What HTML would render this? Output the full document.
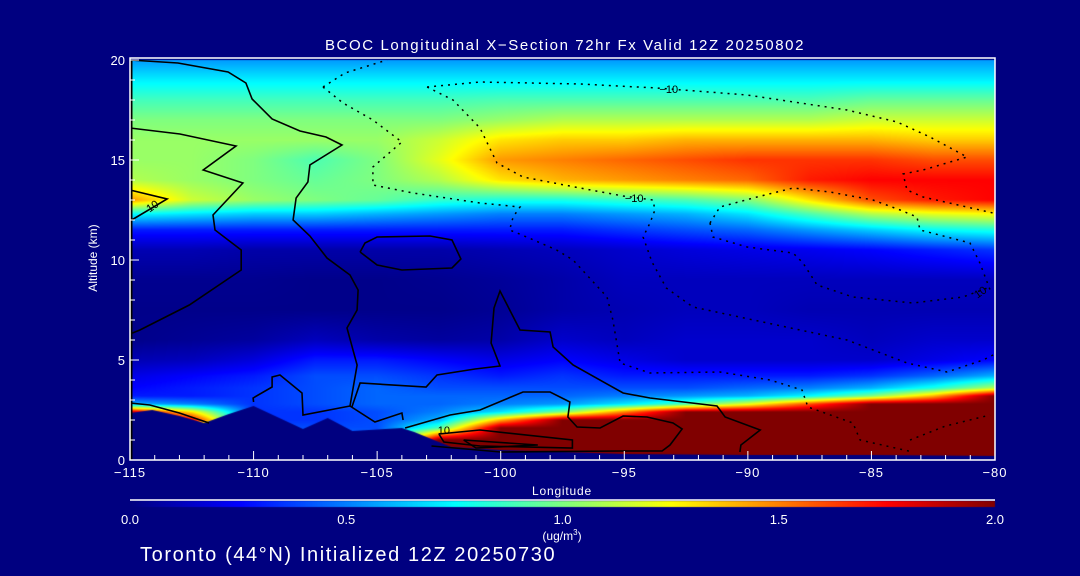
<!DOCTYPE html>
<html><head><meta charset="utf-8"><style>
html,body{margin:0;padding:0;background:#000080;}
#wrap{position:relative;width:1080px;height:576px;overflow:hidden;background:#000080;font-family:"Liberation Sans",sans-serif;}
canvas,svg{position:absolute;left:0;top:0;}
</style></head><body>
<div id="wrap">
<canvas id="heat" width="1080" height="576"></canvas>
<svg id="ov" width="1080" height="576">
<text x="565" y="50" fill="#fff" font-size="15" letter-spacing="1.6" text-anchor="middle">BCOC Longitudinal X−Section 72hr  Fx Valid 12Z 20250802</text>
<text x="562" y="495" fill="#fff" font-size="12" letter-spacing="0.8" text-anchor="middle">Longitude</text>
<text x="97" y="258" fill="#fff" font-size="12" text-anchor="middle" transform="rotate(-90 97 258)">Altitude (km)</text>
<text x="562" y="540" fill="#fff" font-size="12" text-anchor="middle">(ug/m<tspan font-size="8" dy="-5">3</tspan><tspan dy="5">)</tspan></text>
<text x="140" y="561" fill="#fff" font-size="20" letter-spacing="1.6">Toronto (44°N) Initialized 12Z 20250730</text>
<g id="contours"></g>
<g id="axes"></g>
<g id="cbar"></g>
</svg>
</div>
<script>
// ---- data ----
const lons = [-115,-112.5,-110,-107.5,-105,-102.5,-100,-97.5,-95,-92.5,-90,-87.5,-85,-82.5,-80];
const alts = [0,1.0,1.6,2.0,2.4,2.8,3.2,3.6,4.2,5,6,7.5,9,10.5,11.5,12.3,13,14,15,16,17,18,19,20];
const conc = [
[2,2,2,2,2,2,2,2,2,2,2,2,2,2,2],
[2,1.5,0.5,0.5,0.5,2,2,2,2,2,2,2,2,2,2],
[1.8,1.2,0.4,0.4,0.4,0.9,2,2,2,2,2,2,2,2,2],
[1.9,1.8,0.35,0.35,0.4,0.6,1.4,2,2,2,2,2,2,2,2],
[1.9,1.3,0.35,0.35,0.4,0.5,0.7,1.0,1.5,2,2,2,2,2,2],
[0.6,0.5,0.35,0.4,0.45,0.45,0.5,0.55,0.7,0.9,1.2,1.6,2,2,2],
[0.3,0.3,0.35,0.4,0.45,0.45,0.45,0.45,0.5,0.55,0.6,0.75,1.0,1.4,2],
[0.25,0.3,0.35,0.4,0.45,0.4,0.4,0.4,0.4,0.4,0.45,0.5,0.6,0.8,1.1],
[0.2,0.25,0.3,0.4,0.4,0.35,0.3,0.35,0.3,0.3,0.3,0.3,0.35,0.45,0.6],
[0.1,0.12,0.18,0.3,0.3,0.25,0.2,0.25,0.2,0.15,0.15,0.15,0.15,0.2,0.25],
[0.02,0.04,0.06,0.12,0.08,0.06,0.08,0.15,0.12,0.15,0.15,0.15,0.12,0.15,0.15],
[0.02,0.02,0.02,0.02,0.02,0.02,0.04,0.08,0.1,0.12,0.12,0.1,0.1,0.1,0.1],
[0.03,0.03,0.03,0.02,0.02,0.03,0.05,0.08,0.12,0.12,0.12,0.12,0.12,0.12,0.12],
[0.1,0.1,0.08,0.08,0.08,0.08,0.1,0.12,0.15,0.18,0.2,0.22,0.25,0.3,0.35],
[0.3,0.3,0.3,0.3,0.3,0.3,0.3,0.3,0.35,0.4,0.45,0.55,0.65,0.75,0.8],
[0.75,0.7,0.65,0.65,0.6,0.55,0.5,0.5,0.55,0.6,0.7,0.9,1.1,1.2,1.25],
[1.45,1.15,1.05,1.0,0.95,0.85,0.8,0.8,0.85,0.9,1.0,1.3,1.6,1.7,1.75],
[1.1,1.05,1.0,0.95,1.0,1.1,1.3,1.4,1.45,1.5,1.55,1.7,1.75,1.75,1.75],
[1.05,1.05,1.0,0.9,1.0,1.2,1.45,1.5,1.55,1.6,1.65,1.65,1.65,1.6,1.6],
[1.05,1.05,1.05,1.05,1.05,1.15,1.3,1.35,1.35,1.4,1.4,1.4,1.4,1.35,1.35],
[1.0,1.0,1.0,1.0,1.0,1.0,1.05,1.1,1.1,1.1,1.1,1.1,1.15,1.15,1.15],
[0.88,0.88,0.88,0.88,0.88,0.88,0.9,0.9,0.9,0.9,0.9,0.9,0.95,0.95,0.95],
[0.72,0.72,0.72,0.72,0.72,0.72,0.72,0.72,0.72,0.72,0.72,0.72,0.72,0.72,0.72],
[0.55,0.55,0.55,0.55,0.55,0.55,0.55,0.55,0.55,0.55,0.55,0.55,0.55,0.55,0.55]
];
const terrainLon = [-115,-114.1,-113,-112,-111,-110,-108,-107,-106,-104,-103.5,-102,-100,-95,-90,-85,-80];
const terrainAlt = [2.35,2.5,2.2,1.85,2.3,2.7,1.55,2.1,1.45,1.6,1.4,0.65,0.5,0.3,0.25,0.25,0.2];
const xTicks = [-115,-110,-105,-100,-95,-90,-85,-80];
const xTickLabels = ["−115","−110","−105","−100","−95","−90","−85","−80"];
const yTicks = [0,5,10,15,20];
const yTickLabels = ["0","5","10","15","20"];
const cbTicks = [0,0.5,1.0,1.5,2.0];
const cbTickLabels = ["0.0","0.5","1.0","1.5","2.0"];
const solidLines = [
[[-115,20],[-113.06,19.85],[-111.03,19.4],[-110.31,18.85],[-110.06,18.05],[-109.25,17.05],[-108.12,16.45],[-107.07,16.15],[-106.42,15.75],[-107.72,14.75],[-107.8,13.9],[-108.28,13.1],[-108.4,12.0],[-107.72,11.2],[-107.03,10.1],[-106.1,9.25],[-105.77,8.5],[-105.81,7.5],[-106.22,6.6],[-105.81,4.75],[-106.1,2.7],[-105.09,1.9],[-104.0,2.35],[-103.95,2.0]],
[[-106.1,2.7],[-108,2.25],[-108.04,3.35],[-108.93,4.25],[-109.25,4.15],[-109.25,3.65],[-110.02,3.1],[-110.0,2.9]],
[[-115,2.85],[-114.2,2.75],[-113,2.35],[-111.8,1.85]],
[[-106.02,2.65],[-105.69,3.85],[-103.02,3.65],[-102.58,4.25],[-101.04,4.55],[-100.03,4.7],[-100.39,5.85],[-100.27,7.6],[-100.03,8.45],[-99.22,6.5],[-98.0,6.4],[-97.88,5.65],[-97.07,4.75],[-95.05,3.35],[-93.96,3.1],[-91.25,2.7],[-90.92,2.15],[-89.5,1.5],[-90.28,0.75],[-90.32,0.4]],
[[-103.87,1.6],[-102.05,2.25],[-100.84,2.5],[-99.1,3.4],[-98.0,3.4],[-97.2,2.9],[-97.28,2.15],[-96.91,1.65],[-95.98,1.6],[-95.05,2.2],[-94.08,2.15],[-93.03,1.85],[-92.66,1.55],[-93.15,0.75],[-93.47,0.45],[-95.17,0.45],[-100,0.4],[-102.8,0.7]],
[[-102.5,1.3],[-100.84,1.5],[-97.1,1.0],[-97.1,0.6],[-100.84,0.7],[-102.3,0.9],[-102.5,1.3]],
[[-101.5,1.0],[-98.5,0.75],[-101,0.6],[-101.5,1.0]],
[[-105.69,10.4],[-105.49,10.85],[-105.0,11.15],[-102.86,11.2],[-101.97,11.0],[-101.61,10.05],[-101.97,9.6],[-104.0,9.5],[-105.0,9.75],[-105.69,10.4]],
[[-115,16.6],[-112.98,16.3],[-110.71,15.7],[-112.04,14.5],[-110.43,13.85],[-111.64,12.25],[-111.56,11.5],[-110.5,10.5],[-110.5,9.5],[-112.6,7.75],[-114.6,6.5],[-115,6.3]],
[[-115,13.5],[-113.5,13.05],[-115,11.95]]
];
const dottedLines = [
[[-107.19,18.65],[-106.3,19.35],[-104.6,20]],
[[-107.19,18.65],[-106.38,17.85],[-105.17,17],[-104.0,15.9],[-105.17,14.65],[-105.17,13.75],[-103.55,13.35],[-100.84,12.85],[-99.22,12.65],[-99.5,12.15],[-99.64,11.5],[-98.95,11.15],[-97.74,10.5],[-97.07,10],[-95.7,8.15],[-95.46,7.0],[-95.17,4.85],[-93.96,4.35],[-91.13,4.4],[-89.1,4.0],[-87.81,3.5],[-87.57,2.65],[-85.75,1.85],[-85.46,1.0],[-83.32,0.4]],
[[-83.44,1.0],[-82,1.7],[-80.2,2.25]],
[[-102.98,18.65],[-101.93,18.0],[-100.84,16.6],[-100.15,14.85],[-99.1,14.15],[-96.79,13.6],[-95.05,13.2],[-93.84,13.0],[-93.76,12.5],[-93.96,11.85],[-94.24,11.15],[-93.88,9.9],[-93.3,8.6],[-92.22,7.65],[-87.89,6.5],[-85.99,6.0],[-83.56,4.85],[-81.94,4.4],[-80.48,5.0],[-80,5.3]],
[[-102.98,18.65],[-100.84,18.9],[-96.79,18.8],[-93.68,18.6],[-90.03,18.25],[-85.99,17.5],[-83.96,16.9],[-82.63,16.15],[-81.13,15.15],[-82.91,14.5],[-83.72,14.3],[-83.56,13.5],[-82.91,13.15],[-80.08,12.35]],
[[-91.53,11.85],[-91.13,12.65],[-89.63,13.15],[-88.17,13.6],[-86.68,13.4],[-84.94,13.0],[-83.84,12.5],[-83.16,12.15],[-83.03,11.5],[-81.94,11.15],[-81.01,10.85],[-80.61,9.85],[-80.2,8.5]],
[[-91.53,11.85],[-91.41,11.15],[-90.03,10.65],[-88.17,10.35],[-87.77,9.85],[-87.2,8.75],[-85.75,8.15],[-83.32,7.85],[-81.3,8.15],[-80.2,8.65]]
];
const contourLabels = [[-93.2,18.55,"−10",0],[-94.6,13.1,"−10",0],[-114.1,12.7,"10",-35],[-102.3,1.5,"10",0],[-80.6,8.4,"10",-35]];

// ---- scales ----
const X0=130,X1=995,Y0=60,Y1=460,LMIN=-115,LMAX=-80,AMIN=0,AMAX=20;
const xs=l=>X0+(l-LMIN)/(LMAX-LMIN)*(X1-X0);
const ys=a=>Y1-(a-AMIN)/(AMAX-AMIN)*(Y1-Y0);
const cbx=v=>X0+v/2*(X1-X0);
function jet(v){let t=Math.max(0,Math.min(1,v/2));
 const stops=[[0,0,0,128],[0.125,0,0,255],[0.375,0,255,255],[0.625,255,255,0],[0.875,255,0,0],[1,128,0,0]];
 for(let i=1;i<stops.length;i++){if(t<=stops[i][0]){const a=stops[i-1],b=stops[i],f=(t-a[0])/(b[0]-a[0]);return [a[1]+(b[1]-a[1])*f,a[2]+(b[2]-a[2])*f,a[3]+(b[3]-a[3])*f];}}
 return [128,0,0];}
function idx(arr,v){for(let i=0;i<arr.length-1;i++){if(v<=arr[i+1])return i;}return arr.length-2;}
function sample(lon,alt){const i=idx(lons,lon),j=idx(alts,alt);
 const fx=Math.max(0,Math.min(1,(lon-lons[i])/(lons[i+1]-lons[i]))),fy=Math.max(0,Math.min(1,(alt-alts[j])/(alts[j+1]-alts[j])));
 const a=conc[j][i],b=conc[j][i+1],c=conc[j+1][i],d=conc[j+1][i+1];
 return a*(1-fx)*(1-fy)+b*fx*(1-fy)+c*(1-fx)*fy+d*fx*fy;}
// ---- heatmap ----
const cv=document.getElementById('heat'),ctx=cv.getContext('2d');
const img=ctx.createImageData(X1-X0,Y1-Y0);
for(let py=0;py<Y1-Y0;py++){const alt=AMAX-(py+0.5)/(Y1-Y0)*(AMAX-AMIN);
 for(let px=0;px<X1-X0;px++){const lon=LMIN+(px+0.5)/(X1-X0)*(LMAX-LMIN);
  const c=jet(sample(lon,alt)),k=(py*(X1-X0)+px)*4;img.data[k]=c[0];img.data[k+1]=c[1];img.data[k+2]=c[2];img.data[k+3]=255;}}
ctx.putImageData(img,X0,Y0);
ctx.fillStyle='#000080';ctx.beginPath();ctx.moveTo(xs(terrainLon[0]),ys(0));
for(let i=0;i<terrainLon.length;i++)ctx.lineTo(xs(terrainLon[i]),ys(terrainAlt[i]));
ctx.lineTo(xs(terrainLon[terrainLon.length-1]),ys(0));ctx.closePath();ctx.fill();
// colorbar
for(let px=X0;px<X1;px++){const c=jet((px-X0)/(X1-X0)*2);ctx.fillStyle=`rgb(${c[0]|0},${c[1]|0},${c[2]|0})`;ctx.fillRect(px,501,1,6);}
// ---- overlay ----
const NS='http://www.w3.org/2000/svg';
function mk(tag,attrs,parent){const e=document.createElementNS(NS,tag);for(const k in attrs)e.setAttribute(k,attrs[k]);parent.appendChild(e);return e;}
const cg=document.getElementById('contours');
solidLines.forEach(l=>{const e=mk('polyline',{points:l.map(p=>xs(p[0]).toFixed(1)+','+ys(p[1]).toFixed(1)).join(' '),fill:'none',stroke:'#000','stroke-width':1.6},cg);
 
 });
dottedLines.forEach(l=>{const e=mk('polyline',{points:l.map(p=>xs(p[0]).toFixed(1)+','+ys(p[1]).toFixed(1)).join(' '),fill:'none',stroke:'#000','stroke-width':1.5,'stroke-dasharray':'2 5'},cg);
 
 });
contourLabels.forEach(c=>{const t=mk('text',{x:xs(c[0]),y:ys(c[1])+4,'font-size':11,fill:'#000','text-anchor':'middle',transform:`rotate(${c[3]} ${xs(c[0])} ${ys(c[1])})`},cg);t.textContent=c[2];
 
 });
const ag=document.getElementById('axes');
mk('line',{x1:X0+1,y1:Y0,x2:X0+1,y2:Y1,stroke:'#000','stroke-width':3},ag);
const fr=mk('rect',{x:X0,y:Y0-2,width:X1-X0,height:Y1-Y0+2,fill:'none',stroke:'#fff','stroke-width':1.5},ag);


for(let l=LMIN;l<=LMAX;l++){const major=xTicks.includes(l);mk('line',{x1:xs(l),y1:Y1,x2:xs(l),y2:Y1-(major?9:5),stroke:'#fff','stroke-width':1},ag);}
for(let a=AMIN;a<=AMAX;a++){const major=yTicks.includes(a);mk('line',{x1:X0,y1:ys(a),x2:X0+(major?9:5),y2:ys(a),stroke:'#fff','stroke-width':1},ag);}
xTicks.forEach((v,i)=>{const t=mk('text',{x:xs(v),y:Y1+17,fill:'#fff','font-size':13,'letter-spacing':1,'text-anchor':'middle'},ag);t.textContent=xTickLabels[i];
 
 });
yTicks.forEach((v,i)=>{const t=mk('text',{x:X0-5,y:ys(v)+5,fill:'#fff','font-size':13,'text-anchor':'end'},ag);t.textContent=yTickLabels[i];
 
 });
const bg=document.getElementById('cbar');
mk('line',{x1:X0,y1:500,x2:X1,y2:500,stroke:'#fff','stroke-width':1.5},bg);
cbTicks.forEach((v,i)=>{const t=mk('text',{x:cbx(v),y:524,fill:'#fff','font-size':13,'text-anchor':'middle'},bg);t.textContent=cbTickLabels[i];
 
 });
</script>
</body></html>
